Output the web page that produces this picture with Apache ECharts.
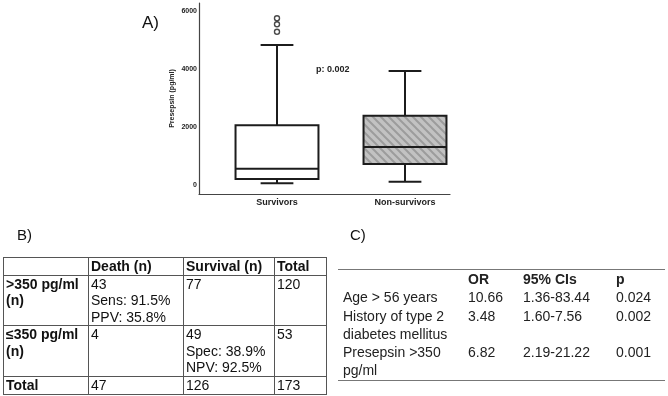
<!DOCTYPE html>
<html>
<head>
<meta charset="utf-8">
<script src="https://cdn.jsdelivr.net/npm/echarts@6/dist/echarts.min.js"></script>
<style>
  body { margin: 0; background: #fff; }
  #wrap { position: relative; width: 668px; height: 396px; overflow: hidden; font-family: 'Liberation Sans', Arial, sans-serif; color: #111; }
  #main { position: absolute; left: 0; top: 0; width: 668px; height: 396px; }
  .panel { position: absolute; font-size: 15px; line-height: 15px; }
  table { position: absolute; border-collapse: collapse; font-size: 14px; line-height: 16.5px; table-layout: fixed; }
  td { padding: 0 2px; vertical-align: top; white-space: pre-line; }
  #tabB td { border: 1px solid #555; }
  #tabB tr td:first-child, #tabB tr.head td { font-weight: bold; }
  #tabC { border-top: 1px solid #777; border-bottom: 1px solid #777; color: #222; line-height: 18.3px; }
  #tabC td { padding: 0; white-space: pre; }
  #tabC tr.head td { font-weight: bold; }
  #tabC td:first-child { padding-left: 5px; }
</style>
</head>
<body>
<div id="wrap">
  <div id="main"></div>
  <div class="panel" style="left:17px;top:227px;">B)</div>
  <div class="panel" style="left:350px;top:227px;">C)</div>
  <table id="tabB" style="left:3px;top:257px;width:323px;">
    <colgroup><col style="width:85px"><col style="width:95px"><col style="width:91px"><col style="width:52px"></colgroup>
  </table>
  <table id="tabC" style="left:338px;top:269px;width:327px;">
    <colgroup><col style="width:130px"><col style="width:55px"><col style="width:93px"><col style="width:49px"></colgroup>
  </table>
</div>
<script>
// panel A: presepsin by outcome
const groups = ['Survivors', 'Non-survivors'];
// min, q1, median, q3, max
const survivorsBox = [76, 224, 579, 2076, 4845];
const nonSurvivorsBox = [131, 741, 1328, 2407, 3948];
const outlierValues = [5303, 5559, 5766]; // survivors
const yTicks = [0, 2000, 4000, 6000];

// panel B
const tabBHeader = ['', 'Death (n)', 'Survival (n)', 'Total'];
const tabBRows = [
  ['>350 pg/ml\n(n)', '43\nSens: 91.5%\nPPV: 35.8%', '77', '120'],
  ['\u2264350 pg/ml\n(n)', '4', '49\nSpec: 38.9%\nNPV: 92.5%', '53'],
  ['Total', '47', '126', '173']
];
const tabBHeights = [16, 50, 51, 18];

// panel C
const tabCHeader = ['', 'OR', '95% CIs', 'p'];
const tabCRows = [
  ['Age > 56 years', '10.66', '1.36-83.44', '0.024'],
  ['History of type 2\ndiabetes mellitus', '3.48', '1.60-7.56', '0.002'],
  ['Presepsin >350\npg/ml', '6.82', '2.19-21.22', '0.001']
];

function fillTable(id, header, rows, heights) {
  const t = document.getElementById(id);
  [header].concat(rows).forEach((r, i) => {
    const tr = document.createElement('tr');
    if (i === 0) tr.className = 'head';
    if (heights) tr.style.height = heights[i] + 'px';
    r.forEach(c => {
      const td = document.createElement('td');
      td.textContent = c;
      tr.appendChild(td);
    });
    t.appendChild(tr);
  });
}
fillTable('tabB', tabBHeader, tabBRows, tabBHeights);
fillTable('tabC', tabCHeader, tabCRows);

// hatched fill for the non-survivors box
function hatch() {
  const c = document.createElement('canvas');
  c.width = c.height = 8;
  const g = c.getContext('2d');
  g.fillStyle = '#c2c2c2';
  g.fillRect(0, 0, 8, 8);
  g.strokeStyle = '#9c9c9c';
  g.lineWidth = 2;
  g.beginPath();
  g.moveTo(-8, -8); g.lineTo(16, 16);
  g.moveTo(-8, 0); g.lineTo(8, 16);
  g.moveTo(0, -8); g.lineTo(16, 8);
  g.stroke();
  return { image: c, repeat: 'repeat' };
}

const boxData = [survivorsBox, nonSurvivorsBox].map((s, i) => [i].concat(s));
const boxFills = ['#fff', hatch()];
const ink = '#1c1c1c';

const myChart = echarts.init(document.getElementById('main'));
myChart.setOption({
  animation: false,
  textStyle: { fontFamily: 'Liberation Sans, Arial, sans-serif' },
  grid: [
    { left: 213, top: 3, width: 256, height: 191 },
    { left: 199, top: 3, width: 251, height: 191 }
  ],
  xAxis: [
    {
      type: 'category',
      data: groups,
      gridIndex: 0,
      axisLine: { show: false },
      axisTick: { show: false },
      axisLabel: { fontSize: 9, fontWeight: 'bold', color: '#222', margin: 4 }
    },
    {
      // bottom axis line spanning the full plot
      type: 'value', gridIndex: 1, min: 0, max: 1,
      axisLine: { show: true, onZero: false, lineStyle: { color: '#444', width: 1.2 } },
      axisTick: { show: false }, axisLabel: { show: false }, splitLine: { show: false }
    }
  ],
  yAxis: [
    {
      type: 'value',
      gridIndex: 0,
      min: -293,
      max: 6293,
      offset: 14,
      name: 'Presepsin (pg/ml)',
      nameLocation: 'middle',
      nameGap: 23,
      nameTextStyle: { fontSize: 7, fontWeight: 'bold', color: '#222' },
      axisLine: { show: true, lineStyle: { color: '#444', width: 1.2 } },
      axisTick: { show: false },
      splitLine: { show: false },
      axisLabel: {
        fontSize: 7, fontWeight: 'bold', color: '#222', margin: 2,
        customValues: yTicks,
        formatter: v => String(v)
      }
    },
    { type: 'value', gridIndex: 1, min: 0, max: 1, show: false }
  ],
  graphic: [
    { type: 'text', left: 142, top: 15, style: { text: 'A)', fontSize: 17, fill: '#111', fontFamily: 'Liberation Sans' } },
    { type: 'text', left: 316, top: 65, style: { text: 'p: 0.002', fontSize: 9, fontWeight: 'bold', fill: '#222', fontFamily: 'Liberation Sans' } }
  ],
  series: [
    {
      type: 'custom',
      xAxisIndex: 0,
      yAxisIndex: 0,
      data: boxData,
      encode: { x: 0, y: [1, 2, 3, 4, 5] },
      renderItem: function (params, api) {
        const i = api.value(0);
        const band = api.size([1, 0])[0];
        const half = band * 0.324;
        const cap = band * 0.128;
        const p = [1, 2, 3, 4, 5].map(d => api.coord([i, api.value(d)]));
        const cx = p[0][0];
        const st = { stroke: ink, lineWidth: 2, fill: null };
        return {
          type: 'group',
          children: [
            { type: 'line', shape: { x1: cx, y1: p[0][1], x2: cx, y2: p[1][1] }, style: st },
            { type: 'line', shape: { x1: cx, y1: p[3][1], x2: cx, y2: p[4][1] }, style: st },
            { type: 'line', shape: { x1: cx - cap, y1: p[0][1], x2: cx + cap, y2: p[0][1] }, style: st },
            { type: 'line', shape: { x1: cx - cap, y1: p[4][1], x2: cx + cap, y2: p[4][1] }, style: st },
            { type: 'rect', shape: { x: cx - half, y: p[3][1], width: half * 2, height: p[1][1] - p[3][1] },
              style: { fill: boxFills[params.dataIndex], stroke: ink, lineWidth: 2 } },
            { type: 'line', shape: { x1: cx - half, y1: p[2][1], x2: cx + half, y2: p[2][1] }, style: st }
          ]
        };
      }
    },
    {
      type: 'scatter',
      xAxisIndex: 0,
      yAxisIndex: 0,
      data: outlierValues.map(v => [0, v]),
      symbol: 'circle',
      symbolSize: 5,
      itemStyle: { color: '#fff', borderColor: ink, borderWidth: 1.4 }
    }
  ]
});
</script>
</body>
</html>
